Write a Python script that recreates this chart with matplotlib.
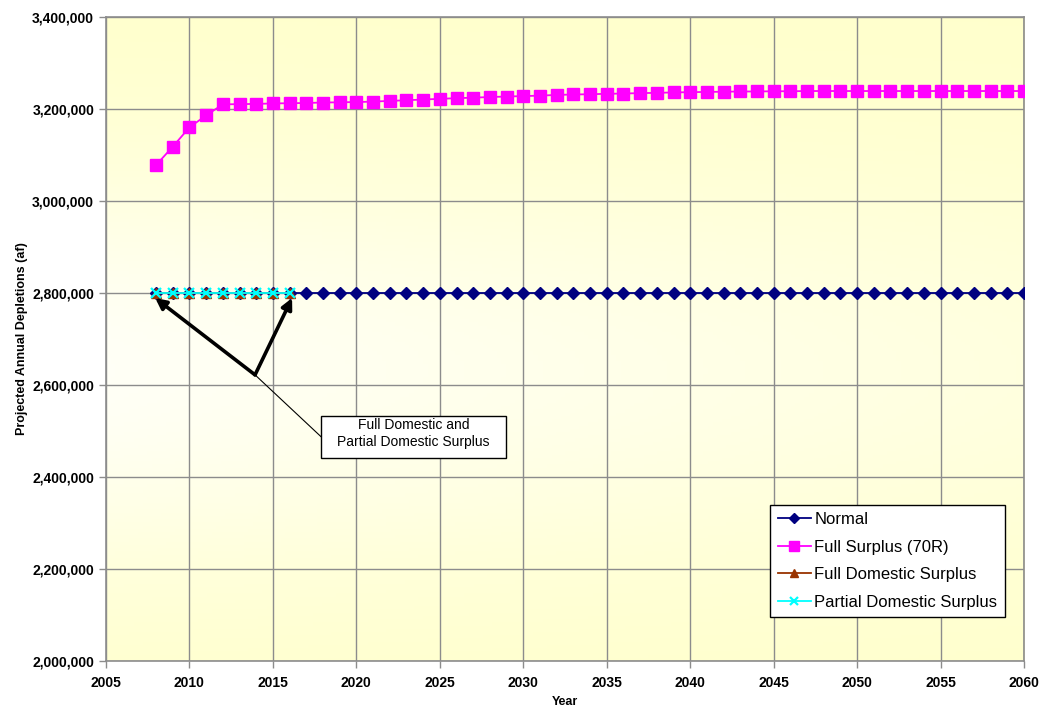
import numpy as np
import matplotlib
matplotlib.use("Agg")
import matplotlib.pyplot as plt
from matplotlib.colors import LinearSegmentedColormap
from matplotlib.patches import Rectangle
from matplotlib.ticker import FuncFormatter, MultipleLocator

plt.rcParams["font.family"] = ["Liberation Sans", "DejaVu Sans"]

years = list(range(2008, 2061))

normal = [2800000] * len(years)

full_surplus = [
    3078000, 3118000, 3160000, 3186000, 3210000, 3210500, 3211000, 3212000,
    3212500, 3213000, 3214000, 3214500, 3215000, 3216000, 3217500, 3219000,
    3220500, 3222000, 3223500, 3224500, 3226000, 3227000, 3228000, 3229000,
    3230500, 3231500, 3232000, 3233000, 3233500, 3234500, 3235000, 3236000,
    3236500, 3237000, 3237500, 3238000, 3238000, 3238500, 3238500, 3239000,
    3239000, 3239000, 3239000, 3239000, 3239000, 3239000, 3239000, 3239000,
    3239000, 3239000, 3239000, 3239000, 3239000,
]

dom_years = list(range(2008, 2017))
full_domestic = [2800000] * len(dom_years)
partial_domestic = [2800000] * len(dom_years)

fig = plt.figure(figsize=(10.41, 7.07), dpi=100)
ax = fig.add_axes([0.1018, 0.0651, 0.8819, 0.9109])

# pale yellow fill, lighter towards the middle-left
gx, gy = np.meshgrid(np.linspace(0, 1, 200), np.linspace(0, 1, 200))
w = np.exp(-((gy - 0.45) / 0.32) ** 2) * (1.0 - 0.55 * gx)
cmap = LinearSegmentedColormap.from_list("bg", ["#FFFFCC", "#FFFFF6"])
ax.imshow(w, cmap=cmap, extent=[0, 1, 0, 1], transform=ax.transAxes,
          aspect="auto", origin="lower", zorder=0, vmin=0, vmax=1)

ax.plot(years, normal, color="#000080", marker="D", markersize=6.5,
        lw=1.3, label="Normal", zorder=3)
ax.plot(years, full_surplus, color="#FF00FF", marker="s", markersize=8,
        lw=1.3, label="Full Surplus (70R)", zorder=3)
ax.plot(dom_years, full_domestic, color="#993300", marker="^", markersize=6.5,
        lw=1.3, label="Full Domestic Surplus", zorder=4)
ax.plot(dom_years, partial_domestic, color="#00FFFF", marker="x", markersize=7,
        mew=1.6, lw=1.3, label="Partial Domestic Surplus", zorder=5)

ax.set_xlim(2005, 2060)
ax.set_ylim(2000000, 3400000)
ax.xaxis.set_major_locator(MultipleLocator(5))
ax.yaxis.set_major_locator(MultipleLocator(200000))
ax.yaxis.set_major_formatter(FuncFormatter(lambda v, p: "{:,.0f}".format(v)))
ax.grid(True, color="#8C8C8C", lw=1.0, zorder=1)
ax.set_axisbelow(True)
for s in ax.spines.values():
    s.set_color("#8C8C8C")
    s.set_linewidth(1.2)
ax.tick_params(colors="#8C8C8C", labelcolor="black", length=5, width=1.0,
               labelsize=10)
for lab in ax.get_xticklabels() + ax.get_yticklabels():
    lab.set_fontweight("bold")
ax.tick_params(axis="x", pad=6)

ax.set_xlabel("Year", fontsize=9, fontweight="bold", labelpad=4)
ax.set_ylabel("Projected Annual Depletions (af)", fontsize=9,
              fontweight="bold", labelpad=3)

# arrows pointing at the domestic surplus series
tail = (2013.93, 2622000)
for head in [(2007.95, 2789000), (2016.15, 2789000)]:
    ax.annotate("", xy=head, xytext=tail,
                arrowprops=dict(arrowstyle="-|>", lw=2.6, color="black",
                                mutation_scale=16, shrinkA=0, shrinkB=0),
                zorder=6)
ax.annotate("", xy=(2017.9, 2487000), xytext=tail,
            arrowprops=dict(arrowstyle="-", lw=0.8, color="black",
                            shrinkA=0, shrinkB=0), zorder=6)

# callout box
ax.add_patch(Rectangle((2017.88, 2441300), 11.09, 91300, fc="white",
                       ec="black", lw=1.0, zorder=7))
ax.text(2023.42, 2494500, "Full Domestic and\nPartial Domestic Surplus",
        ha="center", va="center", fontsize=10, linespacing=1.2, zorder=8)

leg = ax.legend(loc="lower right", bbox_to_anchor=(0.979, 0.068),
                fontsize=12, frameon=True, fancybox=False, handlelength=2.0,
                handletextpad=0.2, borderpad=0.45, labelspacing=0.75,
                borderaxespad=0, markerscale=0.85)
leg.get_frame().set_edgecolor("black")
leg.get_frame().set_linewidth(1.0)
leg.get_frame().set_facecolor("white")
leg.get_frame().set_alpha(1)

fig.savefig("out.png", dpi=100)
